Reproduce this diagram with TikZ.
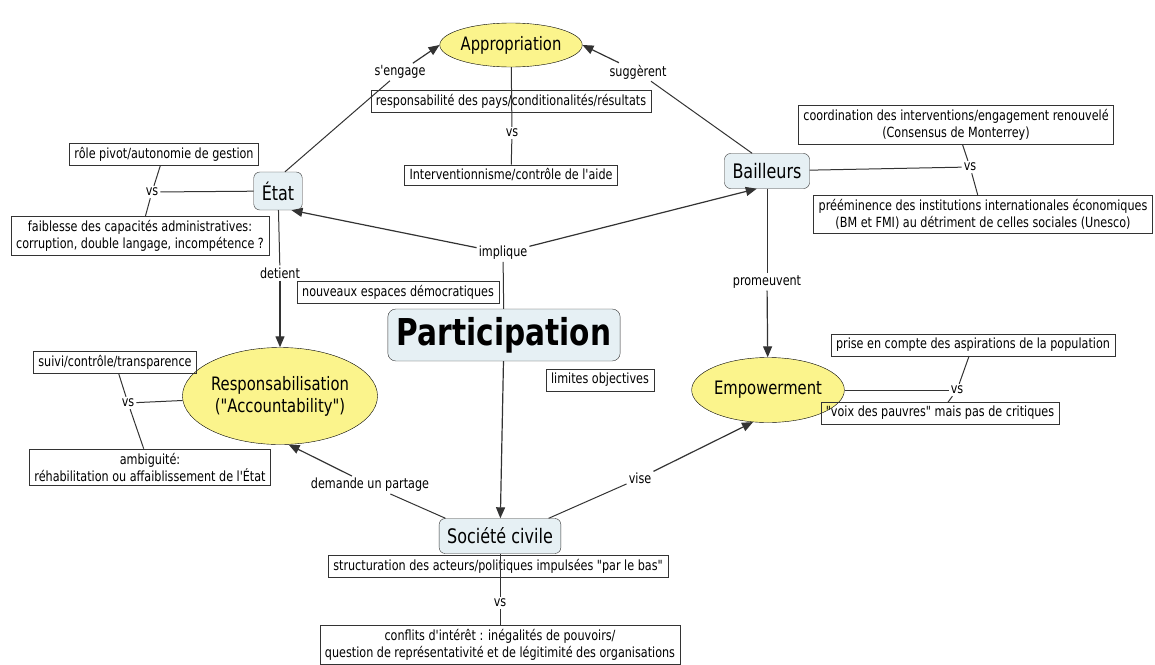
\documentclass[tikz,border=0pt]{standalone}
\usepackage{fontspec}
\newfontfamily\carte{DejaVu Sans}[FakeStretch=0.8]
\usetikzlibrary{shapes.geometric,arrows.meta}
\definecolor{jaune}{HTML}{FBF48C}
\definecolor{bleuclair}{HTML}{E6F0F4}
\definecolor{trait}{HTML}{333333}

\begin{document}
\begin{tikzpicture}[x=1pt,y=-1pt,
  font=\carte\fontsize{14}{17}\selectfont,
  idee/.style={ellipse,draw=black,fill=jaune,inner sep=0pt,align=center,
    font=\carte\fontsize{18.5}{22}\selectfont},
  acteur/.style={draw=trait,fill=bleuclair,rounded corners=6pt,inner xsep=8pt,
    minimum height=35pt,font=\carte\fontsize{20}{24}\selectfont},
  note/.style={draw=trait,align=center,inner xsep=5pt,inner ysep=4pt},
  lien/.style={inner sep=2pt},
  fleche/.style={draw=trait,line width=1.2pt,-{Triangle[length=11pt,width=9pt]}},
  trait/.style={draw=trait,line width=1pt}]

\useasboundingbox (0,0) rectangle (1155,664);

% concepts
\node[acteur,rounded corners=8pt,inner xsep=9pt,minimum height=52pt,
  font=\carte\bfseries\fontsize{37}{40}\selectfont] (part) at (504,335) {Participation};
\node[idee,minimum width=133pt,minimum height=44pt] (appro) at (511,45) {Appropriation};
\node[idee,minimum width=174pt,minimum height=97pt] (resp) at (280,396) {Responsabilisation\\("Accountability")};
\node[idee,minimum width=142pt,minimum height=65pt] (empow) at (768,390) {Empowerment};
\node[acteur,minimum height=38pt] (etat) at (278,191) {État};
\node[acteur] (bail) at (767,171) {Bailleurs};
\node[acteur] (soc) at (500,536) {Société civile};

% mots de liaison
\node[lien] (engage) at (400,72) {s'engage};
\node[lien] (suggere) at (638,72) {suggèrent};
\node[lien] (implique) at (503,253) {implique};
\node[lien] (detient) at (280,273) {detient};
\node[lien] (promeut) at (767,282) {promeuvent};
\node[lien] (demande) at (370,485) {demande un partage};
\node[lien] (vise) at (640,478) {vise};
\node[lien] (vsA) at (512,133) {vs};
\node[lien] (vsE) at (152,192) {vs};
\node[lien] (vsB) at (970,167) {vs};
\node[lien] (vsR) at (128,403) {vs};
\node[lien] (vsP) at (957,390) {vs};
\node[lien] (vsS) at (500,603) {vs};

% notes
\node[note] (respays) at (511,101) {responsabilité des pays/conditionalités/résultats};
\node[note] (interv) at (511,175) {Interventionnisme/contrôle de l'aide};
\node[note] (pivot) at (164,154) {rôle pivot/autonomie de gestion};
\node[note] (faible) at (140,236) {faiblesse des capacités administratives:\\corruption, double langage, incompétence ?};
\node[note] (coord) at (956,125) {coordination des interventions/engagement renouvelé\\(Consensus de Monterrey)};
\node[note] (preem) at (983,214) {prééminence des institutions internationales économiques\\(BM et FMI) au détriment de celles sociales (Unesco)};
\node[note] (espaces) at (398,292) {nouveaux espaces démocratiques};
\node[note] (limites) at (600,380) {limites objectives};
\node[note] (suivi) at (115,362) {suivi/contrôle/transparence};
\node[note] (ambig) at (150,467) {ambiguité:\\réhabilitation ou affaiblissement de l'État};
\node[note] (prise) at (973,345) {prise en compte des aspirations de la population};
\node[note] (voix) at (940,413) {"voix des pauvres" mais pas de critiques};
\node[note] (struct) at (498,566) {structuration des acteurs/politiques impulsées "par le bas"};
\node[note] (conflits) at (500,645) {conflits d'intérêt : inégalités de pouvoirs/\\question de représentativité et de légitimité des organisations};

% liens
\draw[trait] (etat.70) -- (engage);
\draw[fleche] (engage) -- (appro.west);
\draw[trait] (bail.130) -- (suggere);
\draw[fleche] (suggere) -- (appro.east);
\draw[trait] (part) -- (implique);
\draw[fleche] (implique) -- (etat.-55);
\draw[fleche] (implique) -- (bail.-120);
\draw[trait] (etat) -- (detient);
\draw[fleche] (detient) -- (resp);
\draw[trait] (bail) -- (promeut);
\draw[fleche] (promeut) -- (empow);
\draw[fleche] (part) -- (soc);
\draw[trait] (soc.162) -- (demande);
\draw[fleche] (demande) -- (resp.-80);
\draw[trait] (soc.20) -- (vise);
\draw[fleche] (vise) -- (empow.-115);

\draw[trait] (appro) -- (vsA);
\draw[trait] (vsA) -- (interv);
\draw[trait] (etat) -- (vsE);
\draw[trait] (vsE) -- (pivot);
\draw[trait] (vsE) -- (faible);
\draw[trait] (bail) -- (vsB);
\draw[trait] (vsB) -- (coord);
\draw[trait] (vsB) -- (preem);
\draw[trait] (resp) -- (vsR);
\draw[trait] (vsR) -- (suivi);
\draw[trait] (vsR) -- (ambig);
\draw[trait] (empow) -- (vsP);
\draw[trait] (vsP) -- (prise);
\draw[trait] (vsP) -- (voix);
\draw[trait] (soc) -- (vsS);
\draw[trait] (vsS) -- (conflits);

\end{tikzpicture}
\end{document}
